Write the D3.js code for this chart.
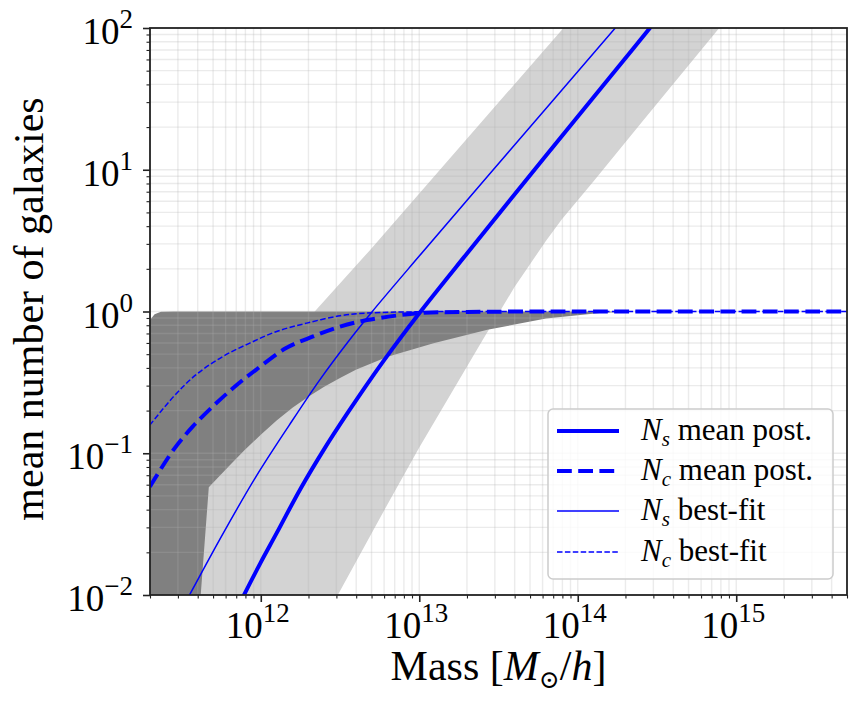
<!DOCTYPE html>
<html>
<head>
<meta charset="utf-8">
<script src="https://cdn.jsdelivr.net/npm/d3@7/dist/d3.min.js"></script>
<style>
  body { margin: 0; background: #fff; }
  svg { display: block; }
</style>
</head>
<body>
<svg id="chart" width="862" height="711"></svg>
<script>
// values: [log10 mass, mean number]
const nsMean = [[11.8,0.0061],[11.88,0.0093],[12.0,0.017],[12.1,0.0273],[12.25,0.056],[12.4,0.107],
  [12.55,0.194],[12.7,0.342],[12.85,0.584],[13.0,0.973],[13.3,2.56],[13.8,12.6],[14.2,44.5],[14.55,135]];
const nsBest = [[11.5,0.0079],[11.55,0.010],[11.76,0.0269],[11.97,0.0684],[12.18,0.158],[12.37,0.327],
  [12.55,0.61],[12.70,0.989],[13.0,2.46],[13.57,13.6],[14.24,101],[14.4,163]];
const ncMean = [[11.30,0.058],[11.45,0.106],[11.57,0.154],[11.72,0.226],[11.85,0.304],[11.97,0.388],
  [12.16,0.552],[12.33,0.667],[12.50,0.783],[12.67,0.87],[13.0,0.973],[13.3,0.993],[14.0,1.0],[15.7,1.0]];
const ncBest = [[11.30,0.158],[11.45,0.251],[11.59,0.357],[11.76,0.481],[11.93,0.598],[12.10,0.723],
  [12.29,0.828],[12.50,0.933],[12.67,0.975],[13.0,0.995],[13.5,1.0],[15.7,1.0]];

// credible bands
const nsBandUpper = [[11.3,0.047],[12.35,1.03],[12.69,2.72],[13.91,100],[14.1,178]];
const nsBandLower = [[11.3,0.004],[12.3,0.004],[12.486,0.01],[12.8,0.0437],[13.0,0.11],[13.2,0.263],
  [13.4,0.63],[13.6,1.48],[13.8,3.16],[13.9,4.47],[14.1,8.3],[14.4,21.4],[14.893,100],[15.1,200]];
const ncBandUpper = [[11.3,0.87],[11.33,0.955],[11.37,0.995],[11.45,1.0],[15.7,1.0]];
const ncBandLower = [[11.3,0.008],[11.615,0.008],[11.621,0.01],[11.672,0.0575],[11.8,0.0813],[11.9,0.106],
  [12.0,0.135],[12.1,0.17],[12.2,0.209],[12.3,0.25],[12.4,0.295],[12.5,0.34],[12.6,0.389],[12.8,0.479],
  [13.09,0.598],[13.43,0.743],[13.8,0.891],[14.14,0.975],[14.35,1.0],[15.7,1.0]];

const xTickExp = [12, 13, 14, 15];
const yTickExp = [-2, -1, 0, 1, 2];
const legendLabels = [["s", "mean post."], ["c", "mean post."], ["s", "best-fit"], ["c", "best-fit"]];

const pLeft = 150, pRight = 847, pTop = 28, pBottom = 595;
const serif = "'Liberation Serif', 'Times New Roman', 'DejaVu Serif', serif";

const svg = d3.select("#chart").attr("font-family", serif);
const x = d3.scaleLog().domain([2e11, 5e15]).range([pLeft, pRight]);
const y = d3.scaleLog().domain([1e-2, 1e2]).range([pBottom, pTop]);

svg.append("defs").append("clipPath").attr("id", "plotClip")
  .append("rect").attr("x", pLeft).attr("y", pTop)
  .attr("width", pRight - pLeft).attr("height", pBottom - pTop);

const plot = svg.append("g").attr("clip-path", "url(#plotClip)");

const px = d => x(Math.pow(10, d[0]));
const py = d => y(d[1]);
const poly = d3.line().x(px).y(py).curve(d3.curveLinearClosed);
const curve = d3.line().x(px).y(py).curve(d3.curveCatmullRom.alpha(0.5));

// bands
plot.append("path")
  .attr("d", poly(nsBandUpper.concat(nsBandLower.slice().reverse())))
  .attr("fill", "#d3d3d3");
plot.append("path")
  .attr("d", poly(ncBandUpper.concat(ncBandLower.slice().reverse())))
  .attr("fill", "#808080");

// grid (major + minor)
const xGrid = [], yGrid = [];
for (let k = 11; k <= 15; k++) for (let m = 1; m <= 9; m++) {
  const v = m * Math.pow(10, k);
  if (v >= 2e11 && v <= 5e15) xGrid.push(v);
}
for (let k = -2; k <= 2; k++) for (let m = 1; m <= 9; m++) {
  const v = m * Math.pow(10, k);
  if (v >= 1e-2 && v <= 1e2) yGrid.push(v);
}
const grid = plot.append("g").attr("stroke", "#b0b0b0").attr("stroke-opacity", 0.25).attr("stroke-width", 1.4);
grid.selectAll(".gx").data(xGrid).enter().append("line")
  .attr("x1", d => x(d)).attr("x2", d => x(d)).attr("y1", pTop).attr("y2", pBottom);
grid.selectAll(".gy").data(yGrid).enter().append("line")
  .attr("y1", d => y(d)).attr("y2", d => y(d)).attr("x1", pLeft).attr("x2", pRight);

// curves
const series = [
  { data: nsMean, w: 4, dash: null },
  { data: ncMean, w: 4, dash: "14.8,6.4" },
  { data: nsBest, w: 1.5, dash: null },
  { data: ncBest, w: 1.5, dash: "5.5,2.4" }
];
series.forEach(s => {
  plot.append("path").attr("d", curve(s.data))
    .attr("fill", "none").attr("stroke", "#0000ff")
    .attr("stroke-width", s.w).attr("stroke-dasharray", s.dash);
});

// axes ticks
const xMajor = xTickExp.map(e => Math.pow(10, e));
const yMajor = yTickExp.map(e => Math.pow(10, e));
const isMajor = (arr, v) => arr.some(m => Math.abs(m - v) / m < 1e-9);
const xMinor = xGrid.filter(v => !isMajor(xMajor, v));
const yMinor = yGrid.filter(v => !isMajor(yMajor, v));

function tickAxis(axis, values, size, w, transform) {
  const g = svg.append("g").attr("transform", transform)
    .call(axis.tickValues(values).tickSize(size).tickFormat(""));
  g.select(".domain").remove();
  g.selectAll("line").attr("stroke", "#222").attr("stroke-width", w);
}
tickAxis(d3.axisBottom(x), xMinor, 3.5, 1.1, `translate(0,${pBottom})`);
tickAxis(d3.axisBottom(x), xMajor, 7, 1.6, `translate(0,${pBottom})`);
tickAxis(d3.axisLeft(y), yMinor, 3.5, 1.1, `translate(${pLeft},0)`);
tickAxis(d3.axisLeft(y), yMajor, 7, 1.6, `translate(${pLeft},0)`);

// spines
svg.append("rect").attr("x", pLeft).attr("y", pTop)
  .attr("width", pRight - pLeft).attr("height", pBottom - pTop)
  .attr("fill", "none").attr("stroke", "#222").attr("stroke-width", 1.8);

// tick labels
const fmtExp = e => (e < 0 ? "\u2212" + (-e) : String(e));
xTickExp.forEach(e => {
  const t = svg.append("text").attr("x", x(Math.pow(10, e)) - 3).attr("y", pBottom + 43)
    .attr("text-anchor", "middle").attr("font-size", 37).attr("font-family", serif);
  t.append("tspan").text("10");
  t.append("tspan").attr("dy", -16).attr("font-size", 27).text(fmtExp(e));
});
yTickExp.forEach(e => {
  const t = svg.append("text").attr("x", 133).attr("y", y(Math.pow(10, e)) + 16)
    .attr("text-anchor", "end").attr("font-size", 37).attr("font-family", serif);
  t.append("tspan").text("10");
  t.append("tspan").attr("dy", -16).attr("font-size", 27).text(fmtExp(e));
});

// axis labels
const xl = svg.append("text").attr("x", (pLeft + pRight) / 2).attr("y", 680)
  .attr("text-anchor", "middle").attr("font-size", 42).attr("font-family", serif);
xl.append("tspan").text("Mass [");
xl.append("tspan").attr("font-style", "italic").text("M");
xl.append("tspan").attr("font-size", 25).attr("dy", 8).attr("font-family", "'DejaVu Serif', serif").text("\u2299");
xl.append("tspan").attr("dy", -8).text("/");
xl.append("tspan").attr("font-style", "italic").text("h");
xl.append("tspan").text("]");

svg.append("text").attr("transform", "translate(43,309) rotate(-90)")
  .attr("text-anchor", "middle").attr("font-size", 42).attr("font-family", serif)
  .text("mean number of galaxies");

// legend
const lg = svg.append("g");
lg.append("rect").attr("x", 548).attr("y", 409).attr("width", 285).attr("height", 170)
  .attr("rx", 5).attr("fill", "#fff").attr("fill-opacity", 0.8)
  .attr("stroke", "#cccccc").attr("stroke-width", 1.5);
const rowY = [431, 471, 511, 552];
series.forEach((s, i) => {
  lg.append("line").attr("x1", 557).attr("x2", 619).attr("y1", rowY[i]).attr("y2", rowY[i])
    .attr("stroke", "#0000ff").attr("stroke-width", s.w).attr("stroke-dasharray", s.dash);
  const t = lg.append("text").attr("x", 641).attr("y", rowY[i] + 9).attr("font-size", 31)
    .attr("font-family", serif);
  t.append("tspan").attr("font-style", "italic").text("N");
  t.append("tspan").attr("font-style", "italic").attr("font-size", 21).attr("dy", 6).text(legendLabels[i][0]);
  t.append("tspan").attr("dy", -6).text(" " + legendLabels[i][1]);
});
</script>
</body>
</html>
